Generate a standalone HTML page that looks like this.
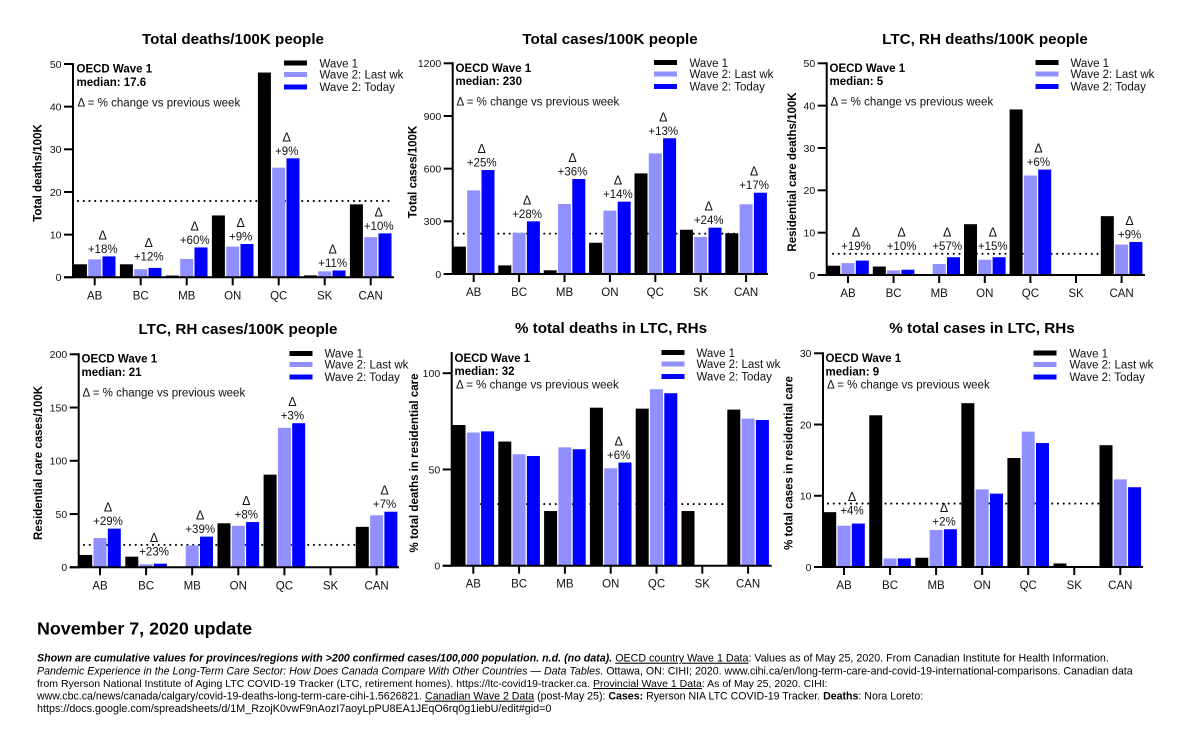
<!DOCTYPE html>
<html lang="en">
<head>
<meta charset="utf-8">
<title>LTC COVID-19 charts</title>
<style>
html,body{margin:0;padding:0;background:#fff;width:1200px;height:730px;overflow:hidden}
svg{display:block}
text{font-family:"Liberation Sans",Arial,sans-serif;fill:#111}
.title{font-size:15.2px;font-weight:bold;text-anchor:middle;fill:#000}
.ytitle{font-size:11.5px;font-weight:bold;text-anchor:middle;fill:#000}
.oecd{font-size:11.5px;font-weight:bold;fill:#000}
.dnote{font-size:11.5px}
.leg{font-size:11.5px}
.tick{font-size:10.5px;text-anchor:end}
.cat{font-size:11.5px;text-anchor:middle}
.delta{font-size:11.5px;text-anchor:middle}
.sym{font-size:12.5px;text-anchor:middle}
.head{font-size:17.85px;font-weight:bold;fill:#000}
.foot{fill:#000}
.u{text-decoration:underline}
</style>
</head>
<body>
<svg id="figure" width="1200" height="730" viewBox="0 0 1200 730" xmlns="http://www.w3.org/2000/svg">
<rect width="1200" height="730" fill="#fff"/>

<g id="p0">
<text class="title" x="233" y="44">Total deaths/100K people</text>
<text class="ytitle" transform="translate(41.5,173) rotate(-90)">Total deaths/100K</text>
</g>
<g id="p1">
<text class="title" x="610" y="44">Total cases/100K people</text>
<text class="ytitle" transform="translate(416.5,172) rotate(-90)">Total cases/100K</text>
</g>
<g id="p2">
<text class="title" x="985" y="44">LTC, RH deaths/100K people</text>
<text class="ytitle" transform="translate(796,172) rotate(-90)">Residential care deaths/100K</text>
</g>
<g id="p3">
<text class="title" x="238" y="334">LTC, RH cases/100K people</text>
<text class="ytitle" transform="translate(42,463) rotate(-90)">Residential care cases/100K</text>
</g>
<g id="p4">
<text class="title" x="611" y="333">% total deaths in LTC, RHs</text>
<text class="ytitle" transform="translate(418,463) rotate(-90)">% total deaths in residential care</text>
</g>
<g id="p5">
<text class="title" x="982" y="333">% total cases in LTC, RHs</text>
<text class="ytitle" transform="translate(792.5,463) rotate(-90)">% total cases in residential care</text>
</g>

<!-- annotations -->
<g>
<text class="oecd" x="76.5" y="72.5">OECD Wave 1</text>
<text class="oecd" x="76.5" y="86">median: 17.6</text>
<text class="dnote" x="77.5" y="106.5">Δ = % change vs previous week</text>
<text class="oecd" x="455.5" y="72">OECD Wave 1</text>
<text class="oecd" x="455.5" y="85">median: 230</text>
<text class="dnote" x="456.5" y="105.5">Δ = % change vs previous week</text>
<text class="oecd" x="829.5" y="72">OECD Wave 1</text>
<text class="oecd" x="829.5" y="85">median: 5</text>
<text class="dnote" x="830.5" y="105.5">Δ = % change vs previous week</text>
<text class="oecd" x="81.5" y="362.5">OECD Wave 1</text>
<text class="oecd" x="81.5" y="376">median: 21</text>
<text class="dnote" x="82.5" y="396.5">Δ = % change vs previous week</text>
<text class="oecd" x="454.5" y="362">OECD Wave 1</text>
<text class="oecd" x="454.5" y="375">median: 32</text>
<text class="dnote" x="456" y="388.5">Δ = % change vs previous week</text>
<text class="oecd" x="825.5" y="362">OECD Wave 1</text>
<text class="oecd" x="825.5" y="375.5">median: 9</text>
<text class="dnote" x="827" y="388.5">Δ = % change vs previous week</text>
</g>

<!-- legends -->
<g>
<rect x="284" y="60.5" width="23" height="5" fill="#000"/><text class="leg" x="319.5" y="67.5">Wave 1</text>
<rect x="284" y="72" width="23" height="5" fill="#9090ff"/><text class="leg" x="319.5" y="78.5">Wave 2: Last wk</text>
<rect x="284" y="84.5" width="23" height="5" fill="#0000ff"/><text class="leg" x="319.5" y="91">Wave 2: Today</text>
</g>
<g>
<rect x="654" y="60" width="23" height="5" fill="#000"/><text class="leg" x="689.5" y="67">Wave 1</text>
<rect x="654" y="71.5" width="23" height="5" fill="#9090ff"/><text class="leg" x="689.5" y="78">Wave 2: Last wk</text>
<rect x="654" y="84" width="23" height="5" fill="#0000ff"/><text class="leg" x="689.5" y="90.5">Wave 2: Today</text>
</g>
<g>
<rect x="1035.5" y="60" width="23" height="5" fill="#000"/><text class="leg" x="1070.5" y="67">Wave 1</text>
<rect x="1035.5" y="71.5" width="23" height="5" fill="#9090ff"/><text class="leg" x="1070.5" y="78">Wave 2: Last wk</text>
<rect x="1035.5" y="84" width="23" height="5" fill="#0000ff"/><text class="leg" x="1070.5" y="90.5">Wave 2: Today</text>
</g>
<g>
<rect x="289.5" y="351" width="23" height="5" fill="#000"/><text class="leg" x="324.5" y="357.5">Wave 1</text>
<rect x="289.5" y="362" width="23" height="5" fill="#9090ff"/><text class="leg" x="324.5" y="368.5">Wave 2: Last wk</text>
<rect x="289.5" y="374.5" width="23" height="5" fill="#0000ff"/><text class="leg" x="324.5" y="381">Wave 2: Today</text>
</g>
<g>
<rect x="661.5" y="350" width="23" height="5" fill="#000"/><text class="leg" x="696.5" y="357">Wave 1</text>
<rect x="661.5" y="361.5" width="23" height="5" fill="#9090ff"/><text class="leg" x="696.5" y="368">Wave 2: Last wk</text>
<rect x="661.5" y="374" width="23" height="5" fill="#0000ff"/><text class="leg" x="696.5" y="380.5">Wave 2: Today</text>
</g>
<g>
<rect x="1033.5" y="350.5" width="23" height="5" fill="#000"/><text class="leg" x="1069.5" y="357.5">Wave 1</text>
<rect x="1033.5" y="362" width="23" height="5" fill="#9090ff"/><text class="leg" x="1069.5" y="368.5">Wave 2: Last wk</text>
<rect x="1033.5" y="374.5" width="23" height="5" fill="#0000ff"/><text class="leg" x="1069.5" y="381">Wave 2: Today</text>
</g>

<!-- footer -->
<text class="head" x="37" y="634.5">November 7, 2020 update</text>
<g>
<text class="foot" font-size="10.69" x="37" y="661.7"><tspan font-weight="bold" font-style="italic">Shown are cumulative values for provinces/regions with &gt;200 confirmed cases/100,000 population. n.d. (no data).</tspan> <tspan class="u">OECD country Wave 1 Data</tspan>: Values as of May 25, 2020. From Canadian Institute for Health Information.</text>
<text class="foot" font-size="10.65" x="37" y="674.5"><tspan font-style="italic">Pandemic Experience in the Long-Term Care Sector: How Does Canada Compare With Other Countries — Data Tables.</tspan> Ottawa, ON: CIHI; 2020. www.cihi.ca/en/long-term-care-and-covid-19-international-comparisons. Canadian data</text>
<text class="foot" font-size="10.53" x="37" y="687">from Ryerson National Institute of Aging LTC COVID-19 Tracker (LTC, retirement homes). https://ltc-covid19-tracker.ca. <tspan class="u">Provincial Wave 1 Data</tspan>: As of May 25, 2020. CIHI:</text>
<text class="foot" font-size="10.6" x="37" y="699.7">www.cbc.ca/news/canada/calgary/covid-19-deaths-long-term-care-cihi-1.5626821. <tspan class="u">Canadian Wave 2 Data</tspan> (post-May 25): <tspan font-weight="bold">Cases:</tspan> Ryerson NIA LTC COVID-19 Tracker. <tspan font-weight="bold">Deaths</tspan>: Nora Loreto:</text>
<text class="foot" font-size="10.77" x="37" y="712">https://docs.google.com/spreadsheets/d/1M_RzojK0vwF9nAozI7aoyLpPU8EA1JEqO6rq0g1iebU/edit#gid=0</text>
</g>

<script>
const categories = ['AB','BC','MB','ON','QC','SK','CAN'];

const deathsTicks = [0,10,20,30,40,50];
const deathsWave1 = [3.05,3.05,0.4,14.5,48.0,0.45,17.1];
const deathsLastWeek = [4.2,1.9,4.3,7.2,25.7,1.4,9.4];
const deathsToday = [4.9,2.2,7.0,7.8,27.9,1.6,10.3];
const deathsDeltas = ['+18%','+12%','+60%','+9%','+9%','+11%','+10%'];
const deathsDeltaLevels = [null,3.1,null,null,null,null,null];
const deathsMedian = 17.9;

const casesTicks = [0,300,600,900,1200];
const casesWave1 = [156,49,21,178,573,252,232];
const casesLastWeek = [476,235,399,361,687,211,397];
const casesToday = [592,300,541,412,773,264,463];
const casesDeltas = ['+25%','+28%','+36%','+14%','+13%','+24%','+17%'];
const casesDeltaLevels = [null,null,null,null,null,null,null];
const casesMedian = 230;

const ltcDeathsTicks = [0,10,20,30,40,50];
const ltcDeathsWave1 = [2.2,2.0,0,12.0,39.1,null,13.9];
const ltcDeathsLastWeek = [2.8,1.1,2.6,3.6,23.5,null,7.2];
const ltcDeathsToday = [3.4,1.25,4.2,4.2,24.9,null,7.8];
const ltcDeathsDeltas = ['+19%','+10%','+57%','+15%','+6%',null,'+9%'];
const ltcDeathsDeltaLevels = [5.1,5.1,5.1,5.1,null,null,null];
const ltcDeathsMedian = 5;

const ltcCasesTicks = [0,50,100,150,200];
const ltcCasesWave1 = [11.6,10,0,41.3,87,null,38];
const ltcCasesLastWeek = [27.5,2.8,20.6,39,131,null,48.8];
const ltcCasesToday = [36.3,3.4,28.8,42.5,135.3,null,52.2];
const ltcCasesDeltas = ['+29%','+23%','+39%','+8%','+3%',null,'+7%'];
const ltcCasesDeltaLevels = [null,7.8,null,null,null,null,null];
const ltcCasesMedian = 21;

const shareDeathsTicks = [0,50,100];
const shareDeathsWave1 = [73.1,64.5,28.4,82.1,81.6,28.4,81.1];
const shareDeathsLastWeek = [69.2,57.9,61.5,50.6,91.7,null,76.4];
const shareDeathsToday = [69.8,57,60.5,53.6,89.6,null,75.7];
const shareDeathsDeltas = [null,null,null,'+6%',null,null,null];
const shareDeathsDeltaLevels = [null,null,null,null,null,null,null];
const shareDeathsMedian = 32;

const shareCasesTicks = [0,10,20,30];
const shareCasesWave1 = [7.7,21.3,1.3,23,15.3,0.5,17.1];
const shareCasesLastWeek = [5.8,1.2,5.2,10.9,19,0.05,12.3];
const shareCasesToday = [6.1,1.2,5.3,10.3,17.4,null,11.2];
const shareCasesDeltas = ['+4%',null,'+2%',null,null,null,null];
const shareCasesDeltaLevels = [6.9,null,null,null,null,null,null];
const shareCasesMedian = 8.9;

const NS = 'http://www.w3.org/2000/svg';
const seriesColors = ['#000000','#9090ff','#0000ff'];

function draw(groupId, frame, yMax, ticks, wave1, last, today, deltas, levels, median) {
  const root = document.getElementById(groupId);
  const yScale = function (v) { return frame.y0 - (v / yMax) * (frame.y0 - frame.top); };
  const xScale = function (i) { return frame.first + i * frame.step; };
  const barW = 13;
  const barStep = 14.3;

  const dots = document.createElementNS(NS, 'line');
  
  
  dots.setAttribute('x1', frame.medFrom);
  dots.setAttribute('x2', frame.medTo);
  dots.setAttribute('y1', yScale(median));
  dots.setAttribute('y2', yScale(median));
  dots.setAttribute('stroke', '#000');
  dots.setAttribute('stroke-width', '2.1');
  dots.setAttribute('stroke-linecap', 'round');
  dots.setAttribute('stroke-dasharray', '0 5.75');
  root.appendChild(dots);

  [wave1, last, today].forEach(function (series, s) {
    series.forEach(function (v, i) {
      if (v === null) { return; }
      const bar = document.createElementNS(NS, 'rect');
      
      
      bar.setAttribute('x', xScale(i) + (s - 1) * barStep - barW / 2);
      bar.setAttribute('y', yScale(v));
      bar.setAttribute('width', barW);
      bar.setAttribute('height', frame.y0 - yScale(v));
      bar.setAttribute('fill', seriesColors[s]);
      root.appendChild(bar);
    });
  });

  const yAxis = document.createElementNS(NS, 'line');
  
  
  yAxis.setAttribute('x1', frame.axisX);
  yAxis.setAttribute('x2', frame.axisX);
  yAxis.setAttribute('y1', frame.top - 1);
  yAxis.setAttribute('y2', frame.y0 + 1);
  yAxis.setAttribute('stroke', '#000');
  yAxis.setAttribute('stroke-width', '2');
  root.appendChild(yAxis);

  const xAxis = document.createElementNS(NS, 'line');
  
  
  xAxis.setAttribute('x1', frame.axisX - 9);
  xAxis.setAttribute('x2', frame.right);
  xAxis.setAttribute('y1', frame.y0);
  xAxis.setAttribute('y2', frame.y0);
  xAxis.setAttribute('stroke', '#000');
  xAxis.setAttribute('stroke-width', '2');
  root.appendChild(xAxis);

  ticks.forEach(function (t) {
    const mark = document.createElementNS(NS, 'line');
    
    
    mark.setAttribute('x1', frame.axisX - 9);
    mark.setAttribute('x2', frame.axisX);
    mark.setAttribute('y1', yScale(t));
    mark.setAttribute('y2', yScale(t));
    mark.setAttribute('stroke', '#000');
    mark.setAttribute('stroke-width', '2');
    root.appendChild(mark);
    const label = document.createElementNS(NS, 'text');
    
    
    label.setAttribute('class', 'tick');
    label.setAttribute('x', frame.axisX - 11.5);
    label.setAttribute('y', yScale(t) + 3.8);
    label.textContent = t;
    root.appendChild(label);
  });

  categories.forEach(function (c, i) {
    const mark = document.createElementNS(NS, 'line');
    
    
    mark.setAttribute('x1', xScale(i));
    mark.setAttribute('x2', xScale(i));
    mark.setAttribute('y1', frame.y0);
    mark.setAttribute('y2', frame.y0 + 8);
    mark.setAttribute('stroke', '#000');
    mark.setAttribute('stroke-width', '2');
    root.appendChild(mark);
    const label = document.createElementNS(NS, 'text');
    
    
    label.setAttribute('class', 'cat');
    label.setAttribute('x', xScale(i));
    label.setAttribute('y', frame.y0 + 22);
    label.textContent = c;
    root.appendChild(label);
  });

  deltas.forEach(function (d, i) {
    if (d === null) { return; }
    const level = levels[i] === null ? today[i] : levels[i];
    const base = yScale(level) - 3.5;
    const sym = document.createElementNS(NS, 'text');
    
    
    sym.setAttribute('class', 'sym');
    sym.setAttribute('x', xScale(i) + 8);
    sym.setAttribute('y', base - 13.5);
    sym.textContent = 'Δ';
    root.appendChild(sym);
    const pct = document.createElementNS(NS, 'text');
    
    
    pct.setAttribute('class', 'delta');
    pct.setAttribute('x', xScale(i) + 8);
    pct.setAttribute('y', base);
    pct.textContent = d;
    root.appendChild(pct);
  });
}

draw('p0', {axisX:73,top:64,y0:277.3,right:394,first:94.7,step:46,medFrom:78,medTo:389}, 50, deathsTicks, deathsWave1, deathsLastWeek, deathsToday, deathsDeltas, deathsDeltaLevels, deathsMedian);
draw('p1', {axisX:452.7,top:63.3,y0:274,right:768,first:473.7,step:45.4,medFrom:458,medTo:737}, 1200, casesTicks, casesWave1, casesLastWeek, casesToday, casesDeltas, casesDeltaLevels, casesMedian);
draw('p2', {axisX:826.7,top:63.3,y0:275,right:1145,first:848,step:45.6,medFrom:833,medTo:1102}, 50, ltcDeathsTicks, ltcDeathsWave1, ltcDeathsLastWeek, ltcDeathsToday, ltcDeathsDeltas, ltcDeathsDeltaLevels, ltcDeathsMedian);
draw('p3', {axisX:78.7,top:354.3,y0:567.3,right:399,first:100,step:46.1,medFrom:84,medTo:356}, 200, ltcCasesTicks, ltcCasesWave1, ltcCasesLastWeek, ltcCasesToday, ltcCasesDeltas, ltcCasesDeltaLevels, ltcCasesMedian);
draw('p4', {axisX:451.7,top:353,y0:565.7,right:771.7,first:473.3,step:45.8,medFrom:458,medTo:727}, 110.5, shareDeathsTicks, shareDeathsWave1, shareDeathsLastWeek, shareDeathsToday, shareDeathsDeltas, shareDeathsDeltaLevels, shareDeathsMedian);
draw('p5', {axisX:823,top:353.3,y0:567,right:1143,first:844,step:46.05,medFrom:828,medTo:1100}, 30, shareCasesTicks, shareCasesWave1, shareCasesLastWeek, shareCasesToday, shareCasesDeltas, shareCasesDeltaLevels, shareCasesMedian);
</script>
</svg>
</body>
</html>
